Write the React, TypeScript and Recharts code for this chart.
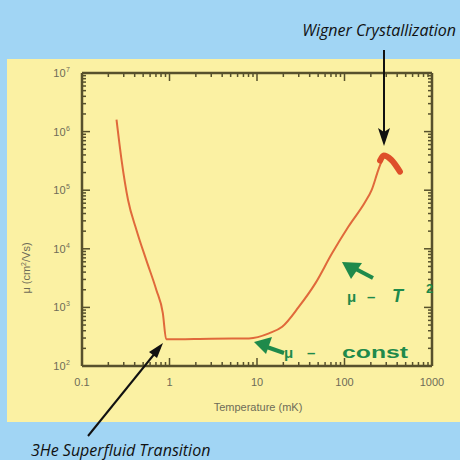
import { LineChart, Line, XAxis, YAxis } from "recharts";

// mobility curve: temperature (mK) vs mu (cm^2/Vs)
const temperature = [0.248, 0.283, 0.336, 0.419, 0.543, 0.706, 0.839, 0.917, 3, 8.1, 13.7, 19.4, 30, 46.4, 71.8, 111, 172, 204, 243, 277];
const mobility = [1.6e6, 3.3e5, 6.8e4, 2.1e4, 6.4e3, 2.0e3, 800, 285, 292, 296, 361, 468, 1020, 2570, 8300, 2.4e4, 6.3e4, 1.0e5, 2.2e5, 3.7e5];

// the thick blob at the top end (crystallization)
const peakTemperature = [255, 280, 342, 430];
const peakMobility = [3.2e5, 3.9e5, 3.3e5, 2.07e5];

const xMajor = [0.1, 1, 10, 100, 1000];
const xMajorLabels = ["0.1", "1", "10", "100", "1000"];
const yExponents = [2, 3, 4, 5, 6, 7];

const curve = temperature.map((t, i) => ({ t, mu: mobility[i] }));
const peak = peakTemperature.map((t, i) => ({ t, mu: peakMobility[i] }));

const minorTicks = (first: number, last: number) => {
  const out: number[] = [];
  for (let d = first; d < last; d++) {
    for (let k = 1; k <= 9; k++) out.push(Number((k * Math.pow(10, d)).toPrecision(3)));
  }
  out.push(Math.pow(10, last));
  return out;
};
const xTicks = minorTicks(-1, 3);
const yTicks = minorTicks(2, 7);

const isMajor = (v: number) => {
  const l = Math.log10(v);
  return Math.abs(l - Math.round(l)) < 1e-6;
};

const AXIS = "#57512c";
const LABEL = "#6e6c58";
const CURVE = "#e0693b";
const GREEN = "#1f8a4b";

const BottomTick = (props: any) => {
  const { x, y, payload } = props;
  const v = payload.value;
  const major = isMajor(v);
  const idx = xMajor.findIndex((m) => Math.abs(m - v) < 1e-9);
  return (
    <g>
      <line x1={x} y1={y} x2={x} y2={y - (major ? 8 : 4)} stroke={AXIS} strokeWidth={1.5} />
      {idx >= 0 && (
        <text x={x} y={y + 20} textAnchor="middle" fontSize={11} fill={LABEL} fontFamily="Liberation Sans, Arial">
          {xMajorLabels[idx]}
        </text>
      )}
    </g>
  );
};

const TopTick = (props: any) => {
  const { x, y, payload } = props;
  const major = isMajor(payload.value);
  return <line x1={x} y1={y} x2={x} y2={y + (major ? 8 : 4)} stroke={AXIS} strokeWidth={1.5} />;
};

const LeftTick = (props: any) => {
  const { x, y, payload } = props;
  const v = payload.value;
  const major = isMajor(v);
  const e = Math.round(Math.log10(v));
  return (
    <g>
      <line x1={x} y1={y} x2={x + (major ? 8 : 4)} y2={y} stroke={AXIS} strokeWidth={1.5} />
      {major && yExponents.includes(e) && (
        <text x={x - 12} y={y + 4} textAnchor="end" fontSize={11} fill={LABEL} fontFamily="Liberation Sans, Arial">
          10
          <tspan dx={0.5} dy={-5} fontSize={7}>
            {e}
          </tspan>
        </text>
      )}
    </g>
  );
};

const RightTick = (props: any) => {
  const { x, y, payload } = props;
  const major = isMajor(payload.value);
  return <line x1={x} y1={y} x2={x - (major ? 8 : 4)} y2={y} stroke={AXIS} strokeWidth={1.5} />;
};

export default function App() {
  const green = { fill: GREEN, fontWeight: "bold" as const, fontFamily: "Liberation Sans, Arial" };
  return (
    <div style={{ position: "absolute", left: 0, top: 0, width: 460, height: 460, background: "#a1d5f4", overflow: "hidden" }}>
      <div style={{ position: "absolute", left: 7, top: 59, width: 453, height: 363, background: "#fbf1a3" }} />
      <div style={{ position: "absolute", left: 0, top: 0 }}>
        <LineChart width={460} height={460} margin={{ top: 72, right: 27, bottom: 93, left: 81 }}>
          <XAxis
            xAxisId="b"
            dataKey="t"
            type="number"
            scale="log"
            domain={[0.1, 1000]}
            ticks={xTicks}
            interval={0}
            tick={<BottomTick />}
            tickSize={0}
            tickMargin={0}
            height={1}
            stroke={AXIS}
            strokeWidth={2.5}
            allowDataOverflow
          />
          <XAxis
            xAxisId="t"
            orientation="top"
            dataKey="t"
            type="number"
            scale="log"
            domain={[0.1, 1000]}
            ticks={xTicks}
            interval={0}
            tick={<TopTick />}
            tickSize={0}
            tickMargin={0}
            height={1}
            stroke={AXIS}
            strokeWidth={2.5}
            allowDataOverflow
          />
          <YAxis
            yAxisId="l"
            dataKey="mu"
            type="number"
            scale="log"
            domain={[100, 1e7]}
            ticks={yTicks}
            interval={0}
            tick={<LeftTick />}
            tickSize={0}
            tickMargin={0}
            width={1}
            stroke={AXIS}
            strokeWidth={2.5}
            allowDataOverflow
          />
          <YAxis
            yAxisId="r"
            orientation="right"
            dataKey="mu"
            type="number"
            scale="log"
            domain={[100, 1e7]}
            ticks={yTicks}
            interval={0}
            tick={<RightTick />}
            tickSize={0}
            tickMargin={0}
            width={1}
            stroke={AXIS}
            strokeWidth={2.5}
            allowDataOverflow
          />
          <Line
            xAxisId="b"
            yAxisId="l"
            data={curve}
            dataKey="mu"
            type="monotone"
            stroke={CURVE}
            strokeWidth={2}
            dot={false}
            isAnimationActive={false}
          />
          <Line
            xAxisId="b"
            yAxisId="l"
            data={peak}
            dataKey="mu"
            type="monotone"
            stroke="#de4f2a"
            strokeWidth={6}
            strokeLinecap="round"
            dot={false}
            isAnimationActive={false}
          />
        </LineChart>
      </div>
      <svg width={460} height={460} style={{ position: "absolute", left: 0, top: 0, pointerEvents: "none" }}>
        <text x={258} y={411} textAnchor="middle" fontSize={11} fill={LABEL} fontFamily="Liberation Sans, Arial">
          Temperature (mK)
        </text>
        <text
          x={30}
          y={268}
          textAnchor="middle"
          fontSize={11}
          fill={LABEL}
          fontFamily="Liberation Sans, Arial"
          transform="rotate(-90 30 268)"
        >
          μ (cm
          <tspan dy={-4} fontSize={7}>2</tspan>
          <tspan dy={4}>/Vs)</tspan>
        </text>

        {/* annotation arrows */}
        <line x1={88} y1={436} x2={160} y2={347} stroke="#111" strokeWidth={2} />
        <polygon points="163,343 149,352 157,358" fill="#111" />
        <line x1={384} y1={50} x2={384} y2={140} stroke="#111" strokeWidth={2} />
        <polygon points="384,146 378,128 384,132 390,128" fill="#111" />

        <text x={456} y={36} textAnchor="end" fontSize={16} fontStyle="italic" fill="#111" fontFamily="Open Sans, Noto Sans">
          Wigner Crystallization
        </text>
        <text x={31} y={456} fontSize={16} fontStyle="italic" fill="#111" fontFamily="Open Sans, Noto Sans">
          3He Superfluid Transition
        </text>

        {/* green notes */}
        <line x1={284} y1={353} x2={264} y2={346} stroke={GREEN} strokeWidth={4} />
        <polygon points="254,342 272,337 266,354" fill={GREEN} />
        <text x={284} y={358} fontSize={15} {...green}>μ</text>
        <text x={307} y={358} fontSize={15} {...green}>–</text>
        <text x={342} y={358} fontSize={17} textLength={66} lengthAdjust="spacingAndGlyphs" {...green}>
          const
        </text>

        <line x1={373} y1={278} x2={352} y2={267} stroke={GREEN} strokeWidth={4} />
        <polygon points="342,262 362,263 351,279" fill={GREEN} />
        <text x={347} y={302} fontSize={15} {...green}>μ</text>
        <text x={367} y={302} fontSize={15} {...green}>–</text>
        <text x={392} y={302} fontSize={18} fontStyle="italic" {...green}>T</text>
        <text x={426} y={293} fontSize={13} {...green}>2</text>
      </svg>
    </div>
  );
}
